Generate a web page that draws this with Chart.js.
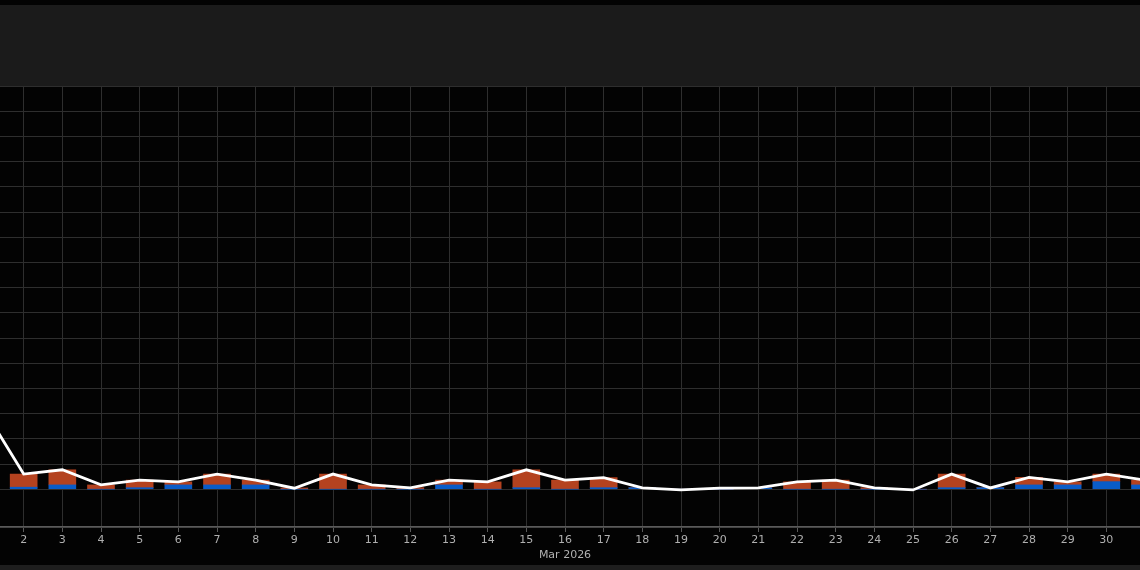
<!DOCTYPE html>
<html>
<head>
<meta charset="utf-8">
<script src="https://cdn.jsdelivr.net/npm/chart.js@4"></script>
<style>
  html, body { margin: 0; padding: 0; background: #030303; overflow: hidden; }
  body { width: 1140px; height: 570px; position: relative; }
  #topBand { position: absolute; left: 0; top: 5px; width: 1140px; height: 81px; background: #1b1b1b; }
  #bottomBand { position: absolute; left: 0; top: 565px; width: 1140px; height: 5px; background: #1e1e1e; }
  #wrap { position: absolute; left: -15px; top: 86px; width: 1160px; height: 479px; }
</style>
</head>
<body>
<div id="topBand"></div>
<div id="wrap"><canvas id="chart"></canvas></div>
<div id="bottomBand"></div>
<script>
var days = [];
for (var i = 1; i <= 31; i++) days.push(String(i));

var redValues  = [2.9, 0.52, 0.6, 0.17, 0.30, 0.12, 0.43, 0.19, 0.05, 0.6, 0.17, 0.06, 0.19, 0.29, 0.71, 0.36,
                  0.40, 0, 0, 0, 0, 0.29, 0.36, 0.06, 0, 0.54, 0, 0.30, 0.12, 0.30, 0.19];
var blueValues = [0.2, 0.08, 0.17, 0, 0.06, 0.17, 0.17, 0.17, 0, 0, 0, 0, 0.17, 0, 0.06, 0,
                  0.06, 0.06, 0, 0, 0.05, 0, 0, 0, 0, 0.06, 0.06, 0.17, 0.17, 0.3, 0.17];
var lineValues = [3.1, 0.6, 0.77, 0.17, 0.36, 0.29, 0.6, 0.36, 0.04, 0.6, 0.17, 0.05, 0.36, 0.29, 0.77, 0.36,
                  0.46, 0.05, -0.03, 0.04, 0.05, 0.29, 0.36, 0.05, -0.03, 0.6, 0.05, 0.47, 0.29, 0.6, 0.36];
var axisTitle = 'Mar 2026';

var ctx = document.getElementById('chart').getContext('2d');
var chart = new Chart(ctx, {
    data: {
        labels: days,
        datasets: [{
            type: 'line',
            data: lineValues,
            borderColor: '#ffffff',
            borderWidth: 2.8,
            pointRadius: 0,
            tension: 0,
            order: 0
        }, {
            type: 'bar',
            data: blueValues,
            backgroundColor: '#0a5cc8',
            barThickness: 27,
            stack: 's',
            order: 1
        }, {
            type: 'bar',
            data: redValues,
            backgroundColor: '#b4421f',
            barThickness: 27,
            stack: 's',
            order: 1
        }]
    },
    options: {
        responsive: true,
        maintainAspectRatio: false,
        animation: false,
        layout: { padding: 0 },
        plugins: { legend: { display: false }, tooltip: { enabled: false } },
        scales: {
            x: {
                stacked: true,
                offset: false,
                grid: { color: '#2e2e2e', offset: false, tickLength: 5, tickColor: '#5a5a5a' },
                border: { color: '#5a5a5a', width: 1.5 },
                ticks: {
                    color: '#b0b0b0', font: { family: 'DejaVu Sans', size: 11 },
                    maxRotation: 0, autoSkip: false, padding: 2,
                    // the last day sits just past the right edge of the view
                    callback: function(value, index) {
                        return index === days.length - 1 ? '' : this.getLabelForValue(value);
                    }
                },
                title: {
                    display: true, text: axisTitle, color: '#b0b0b0',
                    font: { family: 'DejaVu Sans', size: 11 },
                    padding: { top: 0, bottom: 3 }
                },
                afterFit: function(scale) {
                    scale.height = 38;
                    scale.paddingLeft = 0;
                    scale.paddingRight = 0;
                }
            },
            y: {
                stacked: true,
                min: -1.5,
                max: 16,
                grid: { color: '#2e2e2e', drawTicks: false },
                border: { display: false },
                ticks: { display: false, stepSize: 1 },
                afterFit: function(scale) { scale.width = 0; }
            }
        }
    }
});
</script>
</body>
</html>
